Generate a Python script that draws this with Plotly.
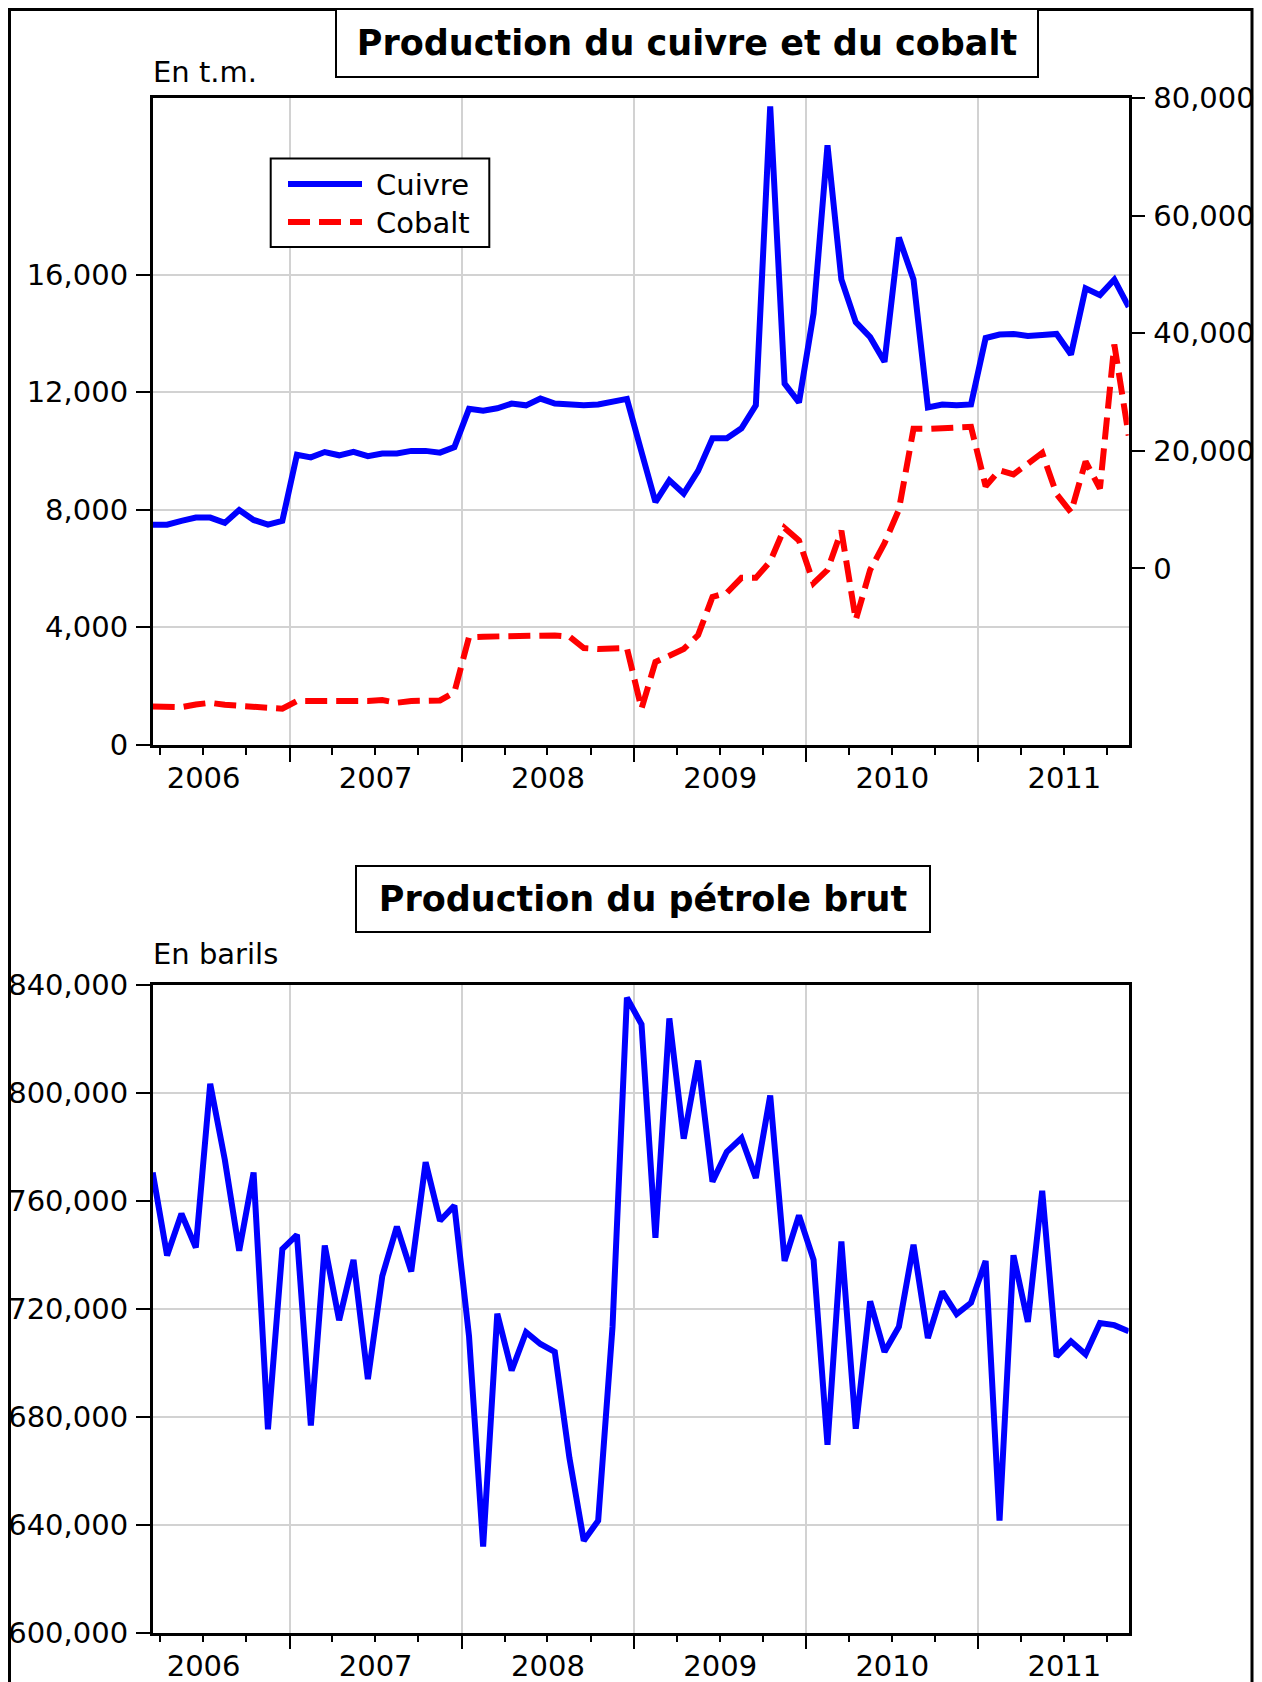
import pandas as pd
import plotly.graph_objects as go

W, H = 1262, 1682
OFF = 8  # the html page puts the figure 8px from its top-left corner
FONT = "DejaVu Sans"

# monthly observations 2006M03 - 2011M11
debut, fin = "2006-03-01", "2011-11-01"

# Cuivre (t.m., right axis)
cuivre = [
    7450, 7450, 8100, 8650, 8650, 7750, 9950, 8250, 7450, 8100,
    19350, 18900, 19800, 19250, 19850, 19100, 19550, 19550, 20000, 20000, 19700, 20650,
    27150, 26850, 27250, 28050, 27750, 28900, 28050, 27900, 27750, 27900, 28400, 28850,
    19800, 11300, 15000, 12750, 16600, 22150, 22150, 23850, 27750, 78600, 31450, 28250,
    43400, 72000, 49150, 41900, 39350, 35150, 56300, 49150, 27400, 27900, 27750, 27900,
    39200, 39800, 39900, 39550, 39700, 39900, 36400, 47650, 46500, 49150, 44500,
]

# Cobalt (t.m., left axis)
cobalt = [
    1300, 1270, 1280, 1370, 1430, 1360, 1340, 1310, 1260, 1230,
    1490, 1490, 1490, 1460, 1460, 1490, 1520, 1430, 1490, 1490, 1510, 1790,
    3660, 3680, 3690, 3690, 3690, 3720, 3720, 3680, 3290, 3260, 3260, 3290,
    1230, 2820, 3030, 3260, 3730, 5030, 5170, 5680, 5680, 6240, 7380, 6950,
    5500, 5950, 7280, 4250, 5950, 6860, 8000, 10750, 10750, 10760, 10790, 10820,
    8800, 9340, 9200, 9560, 9930, 8530, 7910, 9640, 8720, 13620, 10520,
]

# Petrole brut (barils)
petrole = [
    770600, 739800, 755300, 742800, 803500, 775300, 741600, 770600, 675400, 742200,
    747500, 676800, 743500, 715800, 738200, 694000, 732200, 750500, 733900, 774400, 752700, 758300,
    710000, 631900, 718200, 697200, 711400, 707000, 704100, 664800, 634100, 641500, 713400, 835400,
    825500, 746400, 827700, 783100, 812100, 767200, 778300, 783400, 768600, 799100, 737800, 754700,
    738200, 669600, 745000, 675600, 722800, 704100, 713400, 743800, 709200, 726400, 718100, 722300,
    737800, 641500, 739900, 715200, 763800, 702400, 708000, 703200, 714800, 714000, 711700,
]

ticks_cobalt = [0, 4000, 8000, 12000, 16000]
ticks_cuivre = [0, 20000, 40000, 60000, 80000]
ticks_petrole = [600000, 640000, 680000, 720000, 760000, 800000, 840000]

mois = pd.date_range(debut, fin, freq="MS")
milieu = mois + (mois + pd.offsets.MonthBegin(1) - mois) / 2


def px(v):
    return (v - OFF) / W


def py(v):
    return 1 - (v - OFF) / H


tickfont = dict(family=FONT, size=29, color="black")
grid = "#d2d2d2"
BLEU, ROUGE = "#0000ff", "#ff0000"
TIRET = "22px,9px"


def xaxe(anchor):
    return dict(
        type="date", anchor=anchor, range=[milieu[0], milieu[-1]],
        dtick="M12", tick0="2006-01-01", tickformat="%Y", ticklabelmode="period",
        ticks="outside", ticklen=14, tickwidth=2, tickcolor="black", ticklabelstandoff=-8,
        minor=dict(dtick="M3", tick0="2006-01-01", ticks="outside", ticklen=7,
                   tickwidth=2, tickcolor="black", showgrid=False),
        showgrid=True, gridcolor=grid, gridwidth=2,
        showline=True, linecolor="black", linewidth=2.5, mirror=True,
        zeroline=False, tickfont=tickfont, automargin=False,
        domain=[px(152.7), px(1128.7)],
    )


def yaxe(rng, vals, dom, **kw):
    d = dict(
        range=rng, tickvals=vals, tickformat=",", ticks="outside", ticklen=14,
        tickwidth=2, tickcolor="black", ticklabelstandoff=2,
        showline=True, linecolor="black", linewidth=2.5, zeroline=False,
        tickfont=tickfont, automargin=False, domain=dom,
    )
    d.update(kw)
    return d


fig = go.Figure()

fig.add_trace(go.Scatter(x=milieu, y=cuivre, name="Cuivre", mode="lines",
                         line=dict(color=BLEU, width=6), xaxis="x", yaxis="y2"))
fig.add_trace(go.Scatter(x=milieu, y=cobalt, name="Cobalt", mode="lines",
                         line=dict(color=ROUGE, width=6, dash=TIRET),
                         xaxis="x", yaxis="y"))
fig.add_trace(go.Scatter(x=milieu, y=petrole, name="Petrole", mode="lines",
                         line=dict(color=BLEU, width=6), xaxis="x2", yaxis="y3"))

top_dom = [py(744.8), py(98.2)]
bot_dom = [py(1632.6), py(985.3)]

fig.update_layout(
    width=W, height=H, autosize=False,
    margin=dict(l=0, r=0, t=0, b=0),
    paper_bgcolor="white", plot_bgcolor="white",
    font=dict(family=FONT, color="black"),
    showlegend=False,
    xaxis=xaxe("y"),
    xaxis2=xaxe("y3"),
    yaxis=yaxe([0, 22000], ticks_cobalt, top_dom, showgrid=True, gridcolor=grid,
               gridwidth=2, mirror=True),
    yaxis2=yaxe([-30000, 80000], ticks_cuivre, top_dom, overlaying="y", side="right",
                anchor="x", showgrid=False),
    yaxis3=yaxe([600000, 840000], ticks_petrole, bot_dom, anchor="x2", showgrid=True,
                gridcolor=grid, gridwidth=2, mirror=True),
)

# titles in boxes
fig.add_annotation(text="<b>Production du cuivre et du cobalt</b>", xref="paper", yref="paper",
                   x=px(687), y=py(43), xanchor="center", yanchor="middle", showarrow=False,
                   font=dict(family=FONT, size=35, color="black"), width=700, height=66,
                   bordercolor="black", borderwidth=2, borderpad=0, bgcolor="white")
fig.add_annotation(text="<b>Production du pétrole brut</b>", xref="paper", yref="paper",
                   x=px(643), y=py(899), xanchor="center", yanchor="middle", showarrow=False,
                   font=dict(family=FONT, size=35, color="black"), width=572, height=64,
                   bordercolor="black", borderwidth=2, borderpad=0, bgcolor="white")
fig.add_annotation(text="En t.m.", xref="paper", yref="paper", x=px(151), y=py(72),
                   xanchor="left", yanchor="middle", showarrow=False,
                   font=dict(family=FONT, size=29, color="black"))
fig.add_annotation(text="En barils", xref="paper", yref="paper", x=px(151), y=py(954),
                   xanchor="left", yanchor="middle", showarrow=False,
                   font=dict(family=FONT, size=29, color="black"))

# legend box (drawn by hand to get the EViews proportions)
fig.add_shape(type="rect", xref="paper", yref="paper", x0=px(270.7), x1=px(489.3),
              y0=py(247), y1=py(158.5), line=dict(color="black", width=2),
              fillcolor="white", layer="above")
for nom, couleur, dash, yy in [("Cuivre", BLEU, "solid", 184), ("Cobalt", ROUGE, TIRET, 222)]:
    fig.add_shape(type="line", xref="paper", yref="paper", x0=px(288), x1=px(362),
                  y0=py(yy), y1=py(yy), line=dict(color=couleur, width=6, dash=dash),
                  layer="above")
    fig.add_annotation(text=nom, xref="paper", yref="paper", x=px(374), y=py(yy + 1),
                       xanchor="left", yanchor="middle", showarrow=False,
                       font=dict(family=FONT, size=29, color="black"))

# outer frame of the graphic
fig.add_shape(type="rect", xref="paper", yref="paper", x0=1.5 / W, x1=px(1252),
              y0=-0.02, y1=1 - 1.5 / H, line=dict(color="black", width=3))

fig.write_html("out.html")
